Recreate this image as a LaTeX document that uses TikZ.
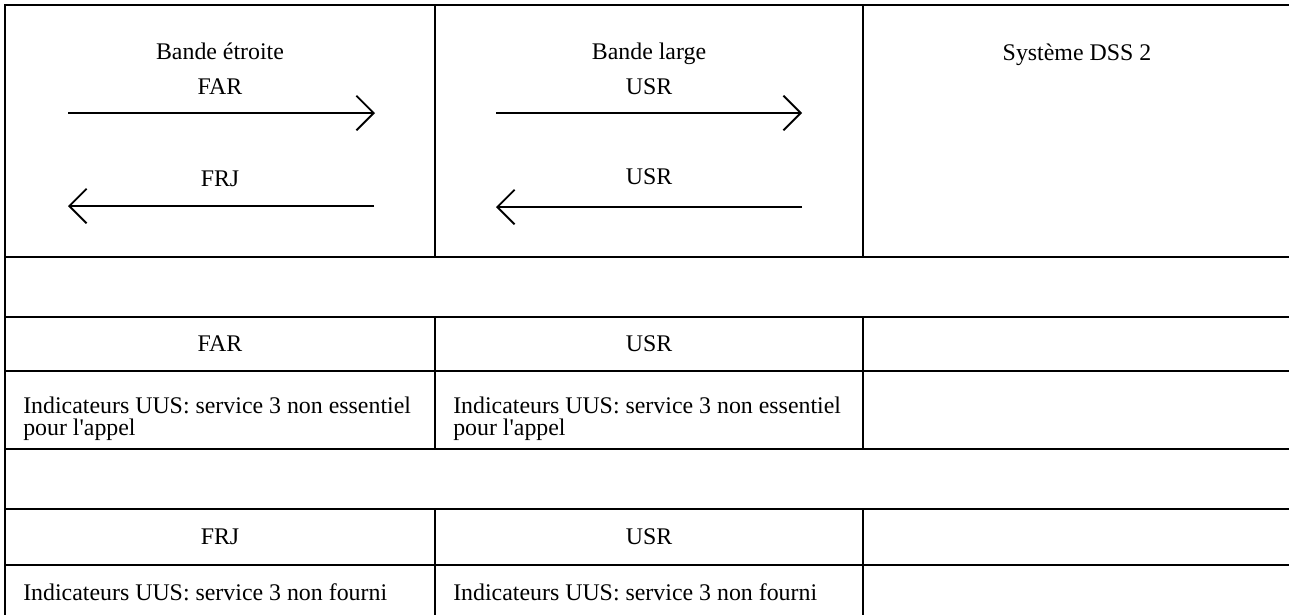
\documentclass[tikz,border=0pt]{standalone}
\usepackage{fontspec}
\setmainfont{Liberation Serif}
\usetikzlibrary{arrows.meta}

\begin{document}
\begin{tikzpicture}[x=0.75pt,y=-0.75pt,font=\fontsize{17.9}{16.5}\selectfont,
  frame/.style={line width=1.6pt},
  rule/.style={line width=0.9pt},
  msg/.style={line width=1.4pt,-{Straight Barb[length=13pt,width=26pt,line width=1.4pt]}},
  head node/.style={inner sep=0pt,anchor=base},
  cell node/.style={inner sep=0pt},
  note node/.style={inner sep=0pt,anchor=north west,align=left}]
  \useasboundingbox (0,0) rectangle (1289,615);
  \draw[frame] (1289,5) -- (5,5) -- (5,615);
  \foreach \y in {257,317,371,449,509,565}
    \draw[frame] (5,\y) -- (1289,\y);
  \draw[frame] (435,5) -- (435,257) (863,5) -- (863,257);
  \foreach \x in {435,863} {
    \draw[rule] (\x,317) -- (\x,449);
    \draw[rule] (\x,509) -- (\x,615);
  }

  \node[head node] (n1) at (220,59) {Bande étroite};
  \node[head node] (n2) at (220,94) {FAR};
  \node[head node] (n3) at (220,186) {FRJ};
  \node[head node] (b1) at (649,59) {Bande large};
  \node[head node] (b2) at (649,94) {USR};
  \node[head node] (b3) at (649,184) {USR};
  \node[head node] (d1) at (1077,60) {Système DSS 2};

  \coordinate (n4) at (68,113);
  \coordinate (n5) at (375,113);
  \coordinate (n6) at (374,206);
  \coordinate (n7) at (68,206);
  \coordinate (b4) at (496,113);
  \coordinate (b5) at (802,113);
  \coordinate (b6) at (802,207);
  \coordinate (b7) at (496,207);

  \path[msg]
    (n4) edge (n5)
    (n6) edge (n7)
    (b4) edge (b5)
    (b6) edge (b7);

  \node[cell node] (r1) at (220,344) {FAR};
  \node[cell node] (r2) at (649,344) {USR};
  \node[note node] (r3) at (23,397) {Indicateurs UUS: service 3 non essentiel\\pour l\textquotesingle appel};
  \node[note node] (r4) at (453,397) {Indicateurs UUS: service 3 non essentiel\\pour l\textquotesingle appel};
  \node[cell node] (r5) at (220,537) {FRJ};
  \node[cell node] (r6) at (649,537) {USR};
  \node[cell node,anchor=west] (r7) at (23,592) {Indicateurs UUS: service 3 non fourni};
  \node[cell node,anchor=west] (r8) at (453,592) {Indicateurs UUS: service 3 non fourni};
\end{tikzpicture}
\end{document}
